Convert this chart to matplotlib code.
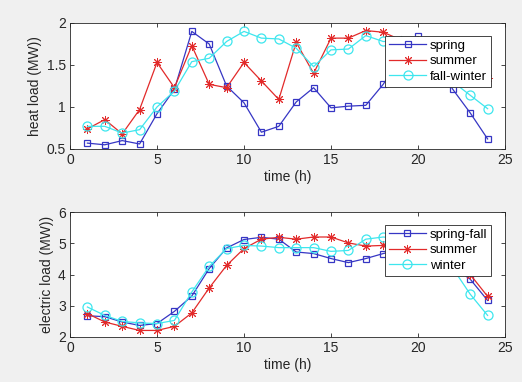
"""Heat and electric load profiles, MATLAB-style two panel figure."""
import matplotlib.pyplot as plt
from matplotlib.ticker import FormatStrFormatter

plt.rcParams['font.family'] = ['Liberation Sans', 'DejaVu Sans']

hours = list(range(1, 25))

heat_spring = [0.57, 0.55, 0.60, 0.56, 0.92, 1.21, 1.90, 1.75, 1.25, 1.05,
               0.70, 0.77, 1.06, 1.23, 0.99, 1.01, 1.02, 1.27, 1.58, 1.84,
               1.55, 1.21, 0.93, 0.62]
heat_summer = [0.74, 0.85, 0.68, 0.97, 1.53, 1.23, 1.73, 1.27, 1.23, 1.53,
               1.31, 1.09, 1.77, 1.40, 1.82, 1.82, 1.91, 1.89, 1.80, 1.75,
               1.65, 1.55, 1.45, 1.35]
heat_fallwinter = [0.77, 0.77, 0.69, 0.73, 1.00, 1.19, 1.54, 1.58, 1.78, 1.90,
                   1.82, 1.81, 1.70, 1.48, 1.68, 1.69, 1.85, 1.78, 1.78, 1.70,
                   1.50, 1.30, 1.14, 0.98]

elec_springfall = [2.68, 2.65, 2.48, 2.37, 2.43, 2.82, 3.31, 4.19, 4.85, 5.12,
                   5.19, 5.13, 4.72, 4.67, 4.51, 4.38, 4.51, 4.67, 4.80, 4.75,
                   4.55, 4.25, 3.85, 3.17]
elec_summer = [2.75, 2.48, 2.34, 2.21, 2.21, 2.34, 2.77, 3.57, 4.29, 4.83,
               5.13, 5.19, 5.13, 5.20, 5.20, 5.01, 4.91, 4.93, 4.90, 4.85,
               4.70, 4.40, 4.00, 3.30]
elec_winter = [2.96, 2.69, 2.50, 2.45, 2.43, 2.53, 3.44, 4.26, 4.83, 4.93,
               4.91, 4.86, 4.86, 4.86, 4.74, 4.77, 5.13, 5.20, 5.15, 5.00,
               4.70, 4.20, 3.37, 2.69]

heat_labels = ["spring", "summer", "fall-winter"]
elec_labels = ["spring-fall", "summer", "winter"]

BLUE = "#3636c4"
RED = "#e22a2a"
CYAN = "#3ee6ee"
BG = "#f0f0f0"
INK = "#262626"


def _panel(ax, series, labels, ylim, yticks, ylabel):
    # square / asterisk / circle like matlab's 's-', '*-', 'o-'
    styles = [(BLUE, "s", 5.0, 0.9), (RED, (8, 2, 0), 6.5, 0.7),
              (CYAN, "o", 6.5, 0.9)]
    for ys, lab, (col, mk, ms, mew) in zip(series, labels, styles):
        ax.plot(hours, ys, color=col, marker=mk, markersize=ms,
                markerfacecolor="none", markeredgecolor=col,
                linewidth=0.9, markeredgewidth=mew, label=lab)
    ax.set_xlim(0, 25)
    ax.set_ylim(*ylim)
    ax.set_xticks([0, 5, 10, 15, 20, 25])
    ax.set_yticks(yticks)
    ax.yaxis.set_major_formatter(FormatStrFormatter("%g"))
    ax.tick_params(direction="in", top=True, right=True, labelsize=10,
                   colors=INK, length=3, width=0.6, pad=3)
    for sp in ax.spines.values():
        sp.set_color(INK)
        sp.set_linewidth(0.6)
    ax.set_xlabel("time (h)", fontsize=10, color=INK, labelpad=2)
    ax.set_ylabel(ylabel, fontsize=10, color=INK, labelpad=3)
    leg = ax.legend(loc="upper right", bbox_to_anchor=(0.968, 0.9),
                    fontsize=9.5, fancybox=False, framealpha=1,
                    edgecolor=INK, handlelength=2.8,
                    borderaxespad=0, borderpad=0.3, labelspacing=0.25,
                    handletextpad=0.3)
    leg.get_frame().set_linewidth(0.6)


fig = plt.figure(figsize=(5.22, 3.82), dpi=100, facecolor=BG)
ax1 = fig.add_axes([70 / 522, 1 - 149 / 382, 435 / 522, 126 / 382])
ax2 = fig.add_axes([70 / 522, 1 - 337 / 382, 435 / 522, 125 / 382])

_panel(ax1, [heat_spring, heat_summer, heat_fallwinter], heat_labels,
       (0.5, 2), [0.5, 1, 1.5, 2], "heat load (MW))")
_panel(ax2, [elec_springfall, elec_summer, elec_winter], elec_labels,
       (2, 6), [2, 3, 4, 5, 6], "electric load (MW))")

fig.savefig("out.png", dpi=100, facecolor=BG)
